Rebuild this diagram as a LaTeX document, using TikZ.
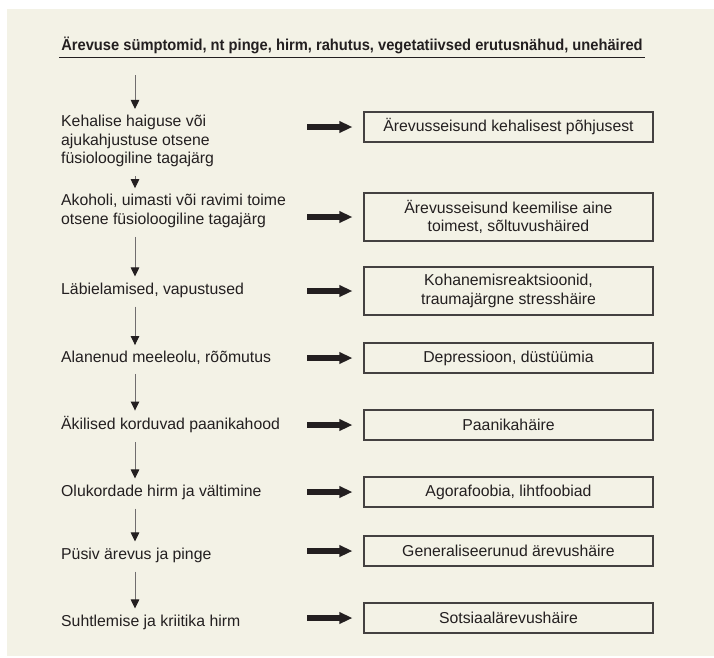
\documentclass[tikz,border=0pt]{standalone}
\usepackage{fontspec}
\setmainfont{Liberation Sans}
\newfontfamily\narrowfont[FakeStretch=0.93]{Liberation Sans}
\usetikzlibrary{arrows.meta}
\definecolor{paper}{RGB}{243,242,230}
\definecolor{ink}{RGB}{35,31,32}

\begin{document}
\begin{tikzpicture}[x=1pt,y=-1pt,font=\fontsize{15.8}{18.5}\selectfont,
    txt/.style={anchor=west,align=left,inner sep=0pt,text=ink},
    dx/.style={draw=ink!85,line width=1.1pt,minimum width=289pt,minimum height=30pt,align=center,inner sep=2pt,text=ink},
    down/.style={-{Triangle[length=9pt,width=8.5pt,color=ink]},draw=ink!65,line width=1pt,shorten <=9pt,shorten >=6pt},
    fat/.style={-{Triangle[length=13pt,width=11pt]},draw=ink,fill=ink,line width=6pt,shorten >=11pt}]

    \useasboundingbox (0,0) rectangle (714,657);
    \fill[paper] (7,9) rectangle (714,656);

    \node[anchor=south,inner xsep=2pt,inner ysep=2.5pt,text=ink,font=\narrowfont\bfseries\fontsize{15.8}{18}\selectfont] (top) at (352,57)
        {Ärevuse sümptomid, nt pinge, hirm, rahutus, vegetatiivsed erutusnähud, unehäired};
    \draw[ink,line width=1pt] (top.south west) -- (top.south east);

    \coordinate (ax) at (135,0);
    \coordinate (ar) at (307,0);

    \node[txt] (l1) at (61,141) {Kehalise haiguse või\\ajukahjustuse otsene\\füsioloogiline tagajärg};
    \node[txt] (l2) at (61,211) {Akoholi, uimasti või ravimi toime\\otsene füsioloogiline tagajärg};
    \node[txt] (l3) at (61,290) {Läbielamised, vapustused};
    \node[txt] (l4) at (61,358) {Alanenud meeleolu, rõõmutus};
    \node[txt] (l5) at (61,425) {Äkilised korduvad paanikahood};
    \node[txt] (l6) at (61,492) {Olukordade hirm ja vältimine};
    \node[txt] (l7) at (61,555) {Püsiv ärevus ja pinge};
    \node[txt] (l8) at (61,622) {Suhtlemise ja kriitika hirm};

    \node[dx] (b1) at (508.5,127) {Ärevusseisund kehalisest põhjusest};
    \node[dx,minimum height=48pt] (b2) at (508.5,217) {Ärevusseisund keemilise aine\\toimest, sõltuvushäired};
    \node[dx,minimum height=48pt] (b3) at (508.5,291) {Kohanemisreaktsioonid,\\traumajärgne stresshäire};
    \node[dx] (b4) at (508.5,358) {Depressioon, düstüümia};
    \node[dx] (b5) at (508.5,425) {Paanikahäire};
    \node[dx] (b6) at (508.5,492) {Agorafoobia, lihtfoobiad};
    \node[dx] (b7) at (508.5,551) {Generaliseerunud ärevushäire};
    \node[dx] (b8) at (508.5,618) {Sotsiaalärevushäire};

    \draw[down,shorten <=18pt] (top.south -| ax) -- (l1.north -| ax);
    \draw[down] (l1.south -| ax) -- (l2.north -| ax);
    \draw[down] (l2.south -| ax) -- (l3.north -| ax);
    \draw[down] (l3.south -| ax) -- (l4.north -| ax);
    \draw[down] (l4.south -| ax) -- (l5.north -| ax);
    \draw[down] (l5.south -| ax) -- (l6.north -| ax);
    \draw[down] (l6.south -| ax) -- (l7.north -| ax);
    \draw[down] (l7.south -| ax) -- (l8.north -| ax);

    \draw[fat] (b1.west -| ar) -- (b1);
    \draw[fat] (b2.west -| ar) -- (b2);
    \draw[fat] (b3.west -| ar) -- (b3);
    \draw[fat] (b4.west -| ar) -- (b4);
    \draw[fat] (b5.west -| ar) -- (b5);
    \draw[fat] (b6.west -| ar) -- (b6);
    \draw[fat] (b7.west -| ar) -- (b7);
    \draw[fat] (b8.west -| ar) -- (b8);
\end{tikzpicture}
\end{document}
